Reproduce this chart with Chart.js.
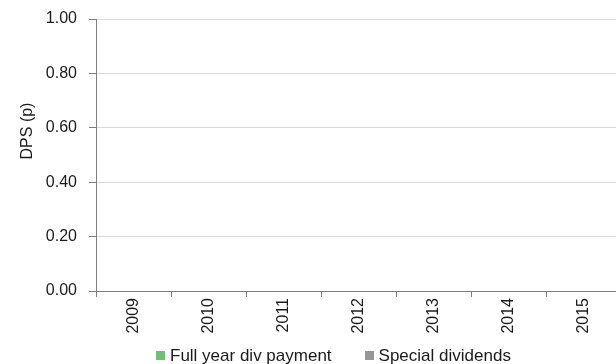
<!DOCTYPE html>
<html>
<head>
<meta charset="utf-8">
<script src="https://cdn.jsdelivr.net/npm/chart.js@4"></script>
<style>
  html, body { margin: 0; padding: 0; background: #fff; }
  #wrap { position: relative; width: 616px; height: 364px; overflow: hidden; }
  #box { position: absolute; left: 0; top: 0; width: 621px; height: 364px; }
  #legend { position: absolute; left: 156px; top: 347px; font: 17px/17px "Liberation Sans", Arial, sans-serif; color: #1a1a1a; white-space: nowrap; }
  #legend span.item { display: inline-block; margin-right: 33px; }
  #legend i { display: inline-block; width: 9px; height: 9px; margin-right: 5px; vertical-align: 1px; }
</style>
</head>
<body>
<div id="wrap">
  <div id="box"><canvas id="myChart"></canvas></div>
  <div id="legend"></div>
</div>
<script>
  const years = ['2009', '2010', '2011', '2012', '2013', '2014', '2015'];
  const fullYearDiv = [0, 0, 0, 0, 0, 0, 0];
  const specialDiv = [0, 0, 0, 0, 0, 0, 0];
  const yTicks = [0, 0.2, 0.4, 0.6, 0.8, 1.0];

  const font = { family: '"Liberation Sans", Arial, sans-serif', size: 16 };

  // y axis title sits above the middle of the axis in the original
  const yTitle = {
    id: 'yTitle',
    afterDraw(chart) {
      const ctx = chart.ctx;
      const a = chart.chartArea;
      ctx.save();
      ctx.translate(a.left - 68, a.top + 112);
      ctx.rotate(-Math.PI / 2);
      ctx.font = '16px ' + font.family;
      ctx.fillStyle = '#1a1a1a';
      ctx.textAlign = 'center';
      ctx.textBaseline = 'middle';
      ctx.fillText('DPS (p)', 0, 0);
      ctx.restore();
    }
  };

  const data = {
    labels: years,
    datasets: [{
      label: 'Full year div payment',
      backgroundColor: 'rgb(112, 192, 112)',
      data: fullYearDiv,
    }, {
      label: 'Special dividends',
      backgroundColor: 'rgb(150, 150, 150)',
      data: specialDiv,
    }]
  };

  const config = {
    type: 'bar',
    data: data,
    options: {
      responsive: true,
      maintainAspectRatio: false,
      animation: false,
      layout: { padding: { top: 19, left: 0, right: 0, bottom: 0 } },
      plugins: {
        legend: { display: false },
        tooltip: { enabled: false }
      },
      scales: {
        x: {
          stacked: true,
          afterFit(scale) { scale.height = 73; },
          border: { color: '#7f7f7f', width: 1 },
          grid: { offset: true, drawOnChartArea: false, tickLength: 6, tickColor: '#7f7f7f' },
          ticks: { minRotation: 90, maxRotation: 90, padding: 1, color: '#1a1a1a', font: font }
        },
        y: {
          stacked: true,
          min: 0,
          max: 1,
          afterFit(scale) {
            scale.width = 96;
            scale.paddingTop = 0;
            scale.paddingBottom = 0;
          },
          afterBuildTicks(scale) { scale.ticks = yTicks.map(v => ({ value: v })); },
          border: { color: '#7f7f7f', width: 1 },
          grid: { color: '#d9d9d9', tickLength: 7, tickColor: '#7f7f7f' },
          ticks: { padding: 12, color: '#1a1a1a', font: font, callback: v => v.toFixed(2) }
        }
      }
    },
    plugins: [yTitle]
  };

  const myChart = new Chart(document.getElementById('myChart'), config);

  // html legend built from the datasets
  document.getElementById('legend').innerHTML = myChart.data.datasets.map(ds =>
    '<span class="item"><i style="background:' + ds.backgroundColor + '"></i>' + ds.label + '</span>'
  ).join('');
</script>
</body>
</html>
